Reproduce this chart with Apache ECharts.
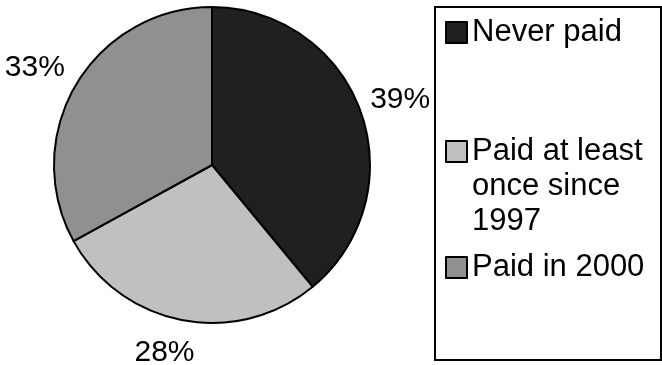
<!DOCTYPE html>
<html><head><meta charset="utf-8">
<script src="https://cdn.jsdelivr.net/npm/echarts@6/dist/echarts.min.js"></script>
<style>html,body{margin:0;padding:0;background:#fff}#c{width:662px;height:365px}</style>
</head><body><div id="c"></div>
<script>
const categories = ['Never paid', 'Paid at least once since 1997', 'Paid in 2000'];
const values = [39, 28, 33];
const colors = ['#202020', '#c0c0c0', '#909090'];
const legendLabels = ['Never paid', '\n\nPaid at least\nonce since\n1997', 'Paid in 2000'];
const labelShift = [[0, 2], [-10, -9], [-5, 5]];

const FONT = '"Liberation Sans", Arial, sans-serif';
const chart = echarts.init(document.getElementById('c'), null, {renderer: 'canvas'});

const pieData = categories.map((n, i) => ({name: n, value: values[i], itemStyle: {color: colors[i]}}));
const labelData = categories.map((n, i) => ({name: n, value: values[i]}));

const legendTops = [15, 64, 250];
const legends = categories.map((n, i) => ({
  data: [n],
  left: 445,
  top: legendTops[i],
  orient: 'vertical',
  padding: 0,
  itemWidth: 21,
  itemHeight: 21,
  itemGap: 0,
  icon: 'rect',
  selectedMode: false,
  formatter: () => legendLabels[i],
  itemStyle: {borderColor: '#000', borderWidth: 2},
  textStyle: {fontSize: 31, fontFamily: FONT, color: '#000', lineHeight: 35}
}));

chart.setOption({
  animation: false,
  backgroundColor: '#fff',
  legend: legends,
  graphic: [{
    type: 'rect', silent: true,
    shape: {x: 435, y: 7, width: 226, height: 353},
    style: {fill: 'none', stroke: '#000', lineWidth: 2}
  }],
  series: [{
    type: 'pie',
    center: [212, 165],
    radius: [0, 158],
    startAngle: 90,
    clockwise: true,
    silent: true,
    itemStyle: {borderColor: '#000', borderWidth: 2},
    label: {show: false},
    labelLine: {show: false},
    data: pieData
  }, {
    type: 'pie',
    center: [212, 165],
    radius: [188, 206],
    startAngle: 90,
    clockwise: true,
    silent: true,
    itemStyle: {color: 'rgba(0,0,0,0)', borderWidth: 0},
    label: {show: true, position: 'inside', formatter: p => p.value + '%',
      fontSize: 30, fontFamily: FONT, color: '#000'},
    labelLine: {show: false},
    labelLayout: p => ({dx: labelShift[p.dataIndex][0], dy: labelShift[p.dataIndex][1]}),
    data: labelData
  }]
});
</script></body></html>
